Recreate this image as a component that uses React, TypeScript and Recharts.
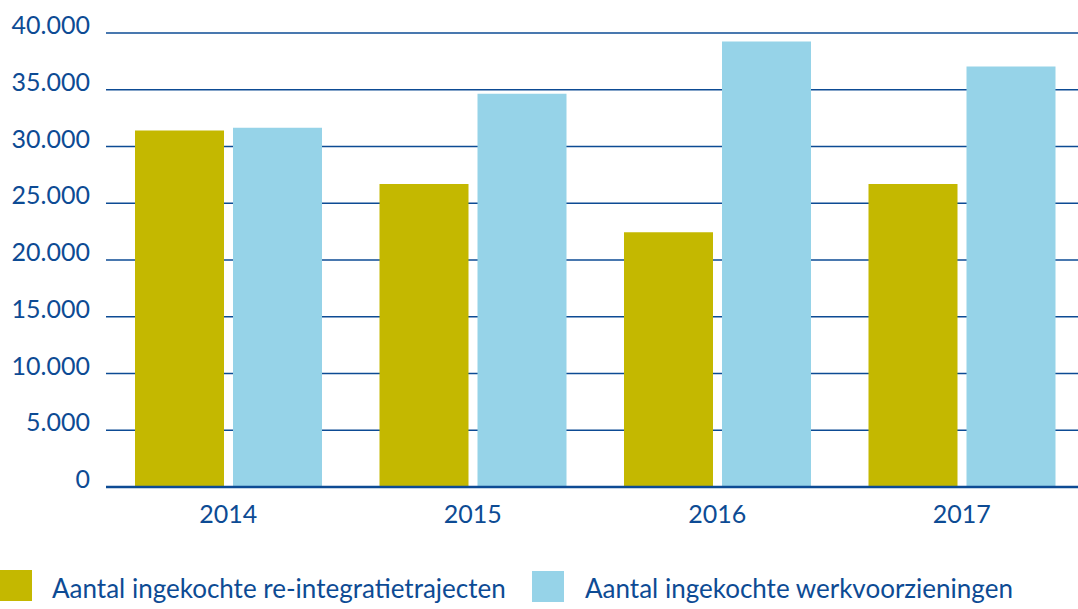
import { BarChart, Bar, XAxis, YAxis, CartesianGrid } from 'recharts'

const years = ['2014', '2015', '2016', '2017']
const reintegratie = [31400, 26700, 22450, 26700]
const werkvoorzieningen = [31650, 34650, 39250, 37050]
const yTicks = [0, 5000, 10000, 15000, 20000, 25000, 30000, 35000, 40000]

const seriesNames = {
  reintegratie: 'Aantal ingekochte re-integratietrajecten',
  werkvoorzieningen: 'Aantal ingekochte werkvoorzieningen',
}

const BLUE = '#0d4b94'
const OLIVE = '#c4b800'
const LIGHT = '#96d3e8'
const FONT = 'Lato, "Open Sans", sans-serif'

const data = years.map((year, i) => ({
  year,
  reintegratie: reintegratie[i],
  werkvoorzieningen: werkvoorzieningen[i],
}))

const fmt = (v: number) => (v === 0 ? '0' : v.toLocaleString('de-DE'))

const YTick = ({ x, y, payload }: { x?: number; y?: number; payload?: { value: number } }) => (
  <text x={(x ?? 0)} y={(y ?? 0) + 1} textAnchor="end" fill={BLUE} fontSize={25} fontFamily={FONT}>
    {fmt(payload?.value ?? 0)}
  </text>
)

const XTick = ({ x, y, payload }: { x?: number; y?: number; payload?: { value: string } }) => (
  <text x={x} y={(y ?? 0) + 36} textAnchor="middle" fill={BLUE} fontSize={25} fontFamily={FONT}>
    {payload?.value}
  </text>
)

export default function App() {
  return (
    <div style={{ position: 'absolute', left: 0, top: 0, width: 1078, height: 609, overflow: 'hidden', background: '#fff' }}>
      <BarChart
        width={1084}
        height={609}
        data={data}
        margin={{ top: 33, right: 0, left: 0, bottom: 88 }}
        barSize={89}
        barGap={9}
      >
        <CartesianGrid vertical={false} stroke={BLUE} strokeWidth={1.3} />
        <XAxis
          dataKey="year"
          height={34}
          tickLine={false}
          tickSize={0}
          tickMargin={0}
          axisLine={{ stroke: BLUE, strokeWidth: 2.4 }}
          tick={<XTick />}
        />
        <YAxis
          width={106}
          domain={[0, 40000]}
          ticks={yTicks}
          interval={0}
          axisLine={false}
          tickLine={false}
          tickSize={0}
          tickMargin={16}
          tick={<YTick />}
        />
        <Bar dataKey="reintegratie" name={seriesNames.reintegratie} fill={OLIVE} isAnimationActive={false} />
        <Bar dataKey="werkvoorzieningen" name={seriesNames.werkvoorzieningen} fill={LIGHT} isAnimationActive={false} />
      </BarChart>

      {/* legenda */}
      <div style={{ position: 'absolute', left: 0, top: 570, fontFamily: FONT, fontSize: 26, color: BLUE, whiteSpace: 'nowrap' }}>
        <div style={{ position: 'absolute', left: 0, top: 0, width: 32, height: 31, background: OLIVE }} />
        <div style={{ position: 'absolute', left: 52, top: 2, lineHeight: '32px' }}>{seriesNames.reintegratie}</div>
        <div style={{ position: 'absolute', left: 532, top: 1, width: 32, height: 31, background: LIGHT }} />
        <div style={{ position: 'absolute', left: 585, top: 2, lineHeight: '32px' }}>{seriesNames.werkvoorzieningen}</div>
      </div>
    </div>
  )
}
